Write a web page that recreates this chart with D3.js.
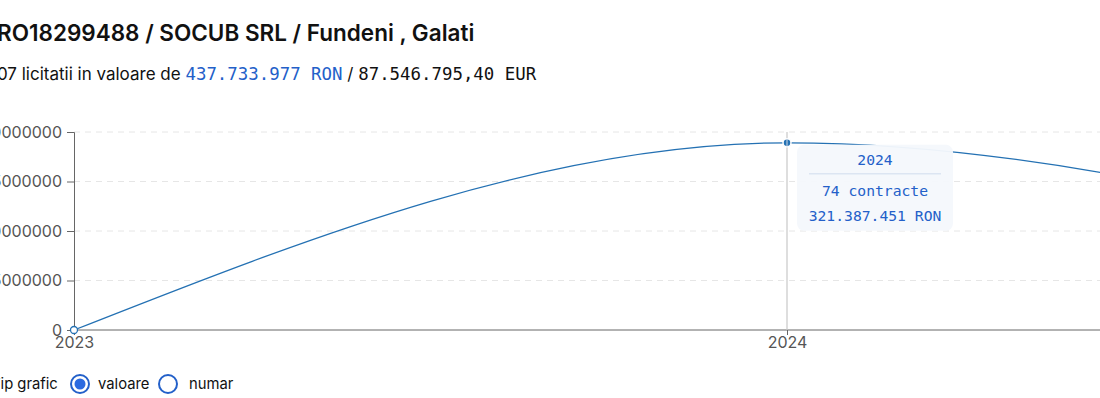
<!DOCTYPE html>
<html>
<head>
<meta charset="utf-8">
<script src="https://cdn.jsdelivr.net/npm/d3@7"></script>
<style>
  body { margin: 0; background: #fff; overflow: hidden; }
  svg { display: block; font-family: Inter, "Noto Sans", sans-serif; }
  .mono { font-family: "DejaVu Sans Mono", "Liberation Mono", monospace; }
</style>
</head>
<body>
<div id="chart"></div>
<script>
// data
const years = [2023, 2024, 2025];
const values = [0, 321387451, 116346526];
const counts = [0, 74, 33];
const yTicks = [0, 85000000, 170000000, 255000000, 340000000];

const width = 1100, height = 398;
const margins = { top: 132, left: 74, bottom: 68 };
const innerHeight = height - margins.top - margins.bottom;

const svg = d3.select('#chart').append('svg')
  .attr('width', width)
  .attr('height', height);

// header
svg.append('text')
  .attr('x', -3).attr('y', 41)
  .attr('font-size', 22.5).attr('font-weight', 600).attr('fill', '#111')
  .text('RO18299488 / SOCUB SRL / Fundeni , Galati');

const sub = svg.append('text')
  .attr('x', -10).attr('y', 80)
  .attr('font-size', 17).attr('fill', '#111');
sub.append('tspan').text('107 licitatii in valoare de ');
sub.append('tspan').attr('class', 'mono').attr('font-size', 17.4).attr('fill', '#2360c9').text('437.733.977 RON');
sub.append('tspan').text(' / ');
sub.append('tspan').attr('class', 'mono').attr('font-size', 17.4).text('87.546.795,40 EUR');

// scales
const x = d3.scaleLinear()
  .domain([2023, 2024])
  .range([margins.left, 787]);

const y = d3.scaleLinear()
  .domain([0, 340000000])
  .range([margins.top + innerHeight, margins.top]);

const g = svg.append('g');

// grid
g.selectAll('.grid').data(yTicks.slice(1))
  .enter().append('line')
  .attr('class', 'grid')
  .attr('x1', margins.left).attr('x2', width)
  .attr('y1', d => y(d)).attr('y2', d => y(d))
  .attr('stroke', '#e6e6e6')
  .attr('stroke-dasharray', '6,5');

// axes
const yAxis = d3.axisLeft(y)
  .tickValues(yTicks)
  .tickFormat(d3.format('d'))
  .tickSize(7)
  .tickPadding(5);

const xAxis = d3.axisBottom(x)
  .tickValues(years.filter(d => d <= 2024))
  .tickFormat(d3.format('d'))
  .tickSize(5)
  .tickPadding(2);

g.append('g')
  .attr('transform', `translate(${margins.left},0)`)
  .call(yAxis)
  .call(s => s.selectAll('text').attr('font-size', 16).attr('fill', '#555').attr('font-family', 'Inter'))
  .call(s => s.selectAll('path, line').attr('stroke', '#666'));

g.append('g')
  .attr('transform', `translate(0,${y(0)})`)
  .call(xAxis)
  .call(s => s.select('.domain').attr('d', `M${margins.left},0H${width + 10}`))
  .call(s => s.selectAll('text').attr('font-size', 16).attr('fill', '#555').attr('font-family', 'Inter'))
  .call(s => s.selectAll('path, line').attr('stroke', '#666'));

// hover rule
g.append('line')
  .attr('x1', x(2024)).attr('x2', x(2024))
  .attr('y1', margins.top).attr('y2', y(0))
  .attr('stroke', '#c8c8c8').attr('stroke-width', 1.2);

// line
const pts = years.map((yr, i) => ({ x: yr, y: values[i], n: counts[i] }));
const line = d3.line()
  .x(d => x(d.x))
  .y(d => y(d.y))
  .curve(d3.curveMonotoneX);

g.append('path')
  .datum(pts)
  .attr('d', line)
  .attr('fill', 'none')
  .attr('stroke', '#2471b3')
  .attr('stroke-width', 1.3);

// points
g.append('circle')
  .attr('cx', x(pts[0].x)).attr('cy', y(pts[0].y)).attr('r', 3.5)
  .attr('fill', '#fff').attr('stroke', '#2471b3').attr('stroke-width', 1.3);

g.append('circle')
  .attr('cx', x(pts[1].x)).attr('cy', y(pts[1].y)).attr('r', 4)
  .attr('fill', '#2471b3').attr('stroke', '#fff').attr('stroke-width', 1.5);
g.append('line')
  .attr('x1', x(2024)).attr('x2', x(2024))
  .attr('y1', y(pts[1].y) - 4).attr('y2', y(pts[1].y) + 4)
  .attr('stroke', '#d0d8e4').attr('stroke-width', 1);

// tooltip
const tipX = x(2024) + 10, tipY = y(pts[1].y) + 2;
const tip = g.append('g').attr('transform', `translate(${tipX},${tipY})`);
tip.append('rect')
  .attr('width', 156).attr('height', 86).attr('rx', 7)
  .attr('fill', '#f5f8fc').attr('opacity', 0.96);
tip.append('line')
  .attr('x1', 12).attr('x2', 144).attr('y1', 29).attr('y2', 29)
  .attr('stroke', '#cfdced').attr('stroke-width', 1);
const tipText = [
  { t: String(pts[1].x), y: 20 },
  { t: `${pts[1].n} contracte`, y: 51 },
  { t: d3.format(',')(pts[1].y).replace(/,/g, '.') + ' RON', y: 76 }
];
tip.selectAll('.tt').data(tipText).enter().append('text')
  .attr('class', 'mono')
  .attr('x', 78).attr('y', d => d.y)
  .attr('text-anchor', 'middle')
  .attr('font-size', 14.7).attr('fill', '#2360c9')
  .text(d => d.t);

// chart type radios
const ctl = svg.append('g').attr('transform', 'translate(0,384)');
ctl.append('text').attr('x', -9).attr('y', 5).attr('font-size', 14.8).attr('fill', '#111').text('Tip grafic');
ctl.append('circle').attr('cx', 80).attr('cy', 0).attr('r', 9)
  .attr('fill', '#fff').attr('stroke', '#2360c9').attr('stroke-width', 2);
ctl.append('circle').attr('cx', 80).attr('cy', 0).attr('r', 5.5).attr('fill', '#2b6ae0');
ctl.append('text').attr('x', 98).attr('y', 5).attr('font-size', 14.8).attr('fill', '#111').text('valoare');
ctl.append('circle').attr('cx', 168).attr('cy', 0).attr('r', 9)
  .attr('fill', '#fff').attr('stroke', '#2360c9').attr('stroke-width', 2);
ctl.append('text').attr('x', 189).attr('y', 5).attr('font-size', 14.8).attr('fill', '#111').text('numar');
</script>
</body>
</html>
